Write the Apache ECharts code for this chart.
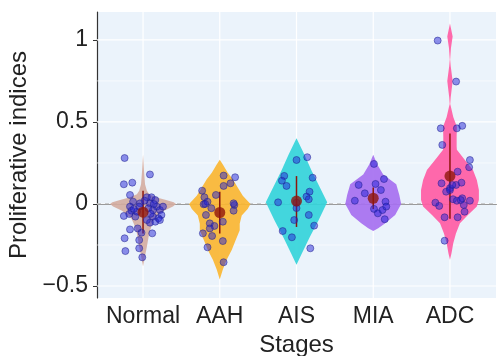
<!DOCTYPE html>
<html>
<head>
<meta charset="utf-8">
<script src="https://cdn.jsdelivr.net/npm/echarts@6/dist/echarts.min.js"></script>
<style>
    html, body {margin: 0; padding: 0; background: #fff;}
    #main {width: 498px; height: 356px;}
</style>
</head>
<body>
<div id="main"></div>
<script>
// 分组
var stages = ['Normal', 'AAH', 'AIS', 'MIA', 'ADC'];
var stagePos = [1, 2, 3, 4, 5];
var yTicks = [-0.5, 0, 0.5, 1];
var yMinorTicks = [-0.25, 0.25, 0.75];

// 散点 [横向抖动, 数值]
var normalPoints = [[-0.24, 0.28], [0.09, 0.18], [-0.25, 0.12], [-0.14, 0.13], [-0.17, 0.055],
    [-0.13, 0.014], [-0.04, 0.004], [0.05, 0.041], [0.11, 0.041], [0.16, 0.024], [0.09, 0.004],
    [0.18, -0.016], [0.22, -0.037], [0.24, -0.067], [0.2, -0.087], [0.16, -0.108], [0.09, -0.114],
    [0.05, -0.098], [0.13, -0.077], [-0.17, -0.016], [-0.15, -0.041], [-0.18, -0.061], [-0.25, -0.073],
    [-0.1, -0.077], [-0.08, -0.047], [-0.05, -0.016], [0.22, -0.098], [0.26, -0.016], [0.07, -0.026],
    [0.13, -0.037], [0.02, 0.02], [0.14, 0.0], [0.1, -0.06], [-0.12, -0.03],
    [-0.17, -0.155], [-0.07, -0.149], [0.12, -0.179], [-0.02, -0.175], [-0.24, -0.209], [-0.05, -0.22],
    [-0.05, -0.27], [-0.23, -0.287], [-0.01, -0.325]];
var aahPoints = [[0.05, 0.173], [0.2, 0.163], [0.14, 0.126], [0.05, 0.11], [-0.23, 0.081], [-0.2, 0.041],
    [-0.05, 0.055], [-0.21, -0.002], [-0.11, -0.026], [0.19, -0.006], [0.18, -0.041], [0.18, 0.004],
    [-0.18, -0.067], [0.04, -0.108], [-0.13, -0.118], [-0.07, -0.134], [-0.13, -0.149], [-0.22, -0.179],
    [-0.1, -0.195], [-0.16, -0.264], [0.04, -0.226], [0.05, -0.355], [-0.16, 0.014], [-0.19, 0.0]];
var aisPoints = [[0.0, 0.268], [0.14, 0.285], [-0.16, 0.171], [-0.19, 0.142], [-0.13, 0.11], [0.21, 0.16],
    [0.17, 0.075], [0.13, 0.045], [0.16, 0.029], [-0.24, 0.01], [0.0, 0.008], [0.16, -0.067],
    [-0.03, -0.098], [0.23, -0.132], [-0.18, -0.165], [-0.06, -0.203], [0.18, -0.27], [0.0, -0.025]];
var miaPoints = [[0.01, 0.244], [0.14, 0.152], [-0.19, 0.116], [0.03, 0.122], [0.1, 0.085], [-0.11, 0.065],
    [-0.24, 0.02], [0.16, 0.014], [0.01, -0.03], [0.06, -0.057], [0.12, -0.037], [0.17, -0.016], [0.15, -0.093]];
var adcPoints = [[-0.16, 0.996], [0.08, 0.746], [-0.12, 0.461], [0.09, 0.461], [0.16, 0.476], [-0.1, 0.36],
    [0.26, 0.268], [0.25, 0.224], [0.1, 0.197], [0.15, 0.13], [-0.11, 0.126], [0.08, 0.116], [0.0, 0.096],
    [-0.05, 0.075], [0.04, 0.029], [0.09, 0.02], [0.16, 0.035], [0.26, 0.02], [-0.19, 0.008], [-0.14, -0.012],
    [0.18, -0.006], [0.19, -0.047], [-0.07, -0.081], [0.1, -0.081], [-0.07, -0.224], [0.0, 0.085],
    [0.03, 0.116], [0.14, 0.024]];

// 均值与误差线
var meanValues = [-0.05, -0.052, 0.018, 0.035, 0.17];
var errLower = [-0.18, -0.18, -0.14, -0.03, -0.09];
var errUpper = [0.08, 0.075, 0.17, 0.1, 0.43];

// 小提琴轮廓 [数值, 半宽(分类单位)]
var normalViolin = [[0.30, 0], [0.2, 0.013], [0.12, 0.026], [0.08, 0.05], [0.06, 0.08], [0.04, 0.18],
    [0.025, 0.3], [0.01, 0.4], [0, 0.43], [-0.015, 0.39], [-0.04, 0.28], [-0.06, 0.22], [-0.09, 0.15],
    [-0.12, 0.12], [-0.18, 0.08], [-0.26, 0.05], [-0.32, 0.025], [-0.38, 0]];
var aahViolin = [[0.27, 0], [0.24, 0.04], [0.19, 0.104], [0.15, 0.17], [0.1, 0.234], [0.05, 0.3], [0.0, 0.4],
    [-0.03, 0.364], [-0.07, 0.286], [-0.12, 0.26], [-0.16, 0.26], [-0.22, 0.208], [-0.28, 0.156],
    [-0.34, 0.09], [-0.4, 0.04], [-0.46, 0]];
var aisViolin = [[0.4, 0], [0.3, 0.104], [0.2, 0.2], [0.1, 0.305], [0.01, 0.4], [-0.1, 0.286],
    [-0.2, 0.175], [-0.3, 0.071], [-0.37, 0]];
var miaViolin = [[0.3, 0], [0.24, 0.052], [0.18, 0.13], [0.12, 0.3], [0.055, 0.34], [0, 0.364],
    [-0.067, 0.286], [-0.118, 0.156], [-0.148, 0.065], [-0.165, 0]];
var adcViolin = [[1.1, 0], [1.02, 0.035], [0.95, 0.013], [0.88, 0.003], [0.84, 0.01], [0.75, 0.035],
    [0.65, 0.01], [0.61, 0.004], [0.53, 0.043], [0.47, 0.09], [0.41, 0.087], [0.35, 0.087], [0.33, 0.09],
    [0.268, 0.195], [0.207, 0.3], [0.146, 0.35], [0.085, 0.377], [0.024, 0.377], [-0.016, 0.35],
    [-0.067, 0.234], [-0.118, 0.13], [-0.18, 0.078], [-0.24, 0.043], [-0.3, 0.02], [-0.34, 0]];

var allPoints = [normalPoints, aahPoints, aisPoints, miaPoints, adcPoints];
var violins = [normalViolin, aahViolin, aisViolin, miaViolin, adcViolin];
var violinColors = ['rgba(212,172,160,0.9)', 'rgba(250,182,50,0.92)', 'rgba(52,212,218,0.92)',
    'rgba(166,112,240,0.92)', 'rgba(255,92,164,0.92)'];

var FONT = 'Liberation Sans';

// 散点数据
var pointData = [];
for (var i = 0; i < allPoints.length; i++) {
    for (var j = 0; j < allPoints[i].length; j++) {
        pointData.push([stagePos[i] + allPoints[i][j][0], allPoints[i][j][1]]);
    }
}
var meanData = [], errData = [], violinData = [];
for (var i = 0; i < stages.length; i++) {
    meanData.push([stagePos[i], meanValues[i]]);
    errData.push([stagePos[i], errLower[i], errUpper[i]]);
    violinData.push([stagePos[i]]);
}
var hGridData = [];
for (var i = 0; i < yTicks.length; i++) hGridData.push([yTicks[i], 1]);
for (var i = 0; i < yMinorTicks.length; i++) hGridData.push([yMinorTicks[i], 0]);
var vGridData = stagePos.map(function (p) { return [p]; });

function hGridItem(params, api) {
    var cs = params.coordSys;
    var y = api.coord([1, api.value(0)])[1];
    return {
        type: 'line',
        shape: {x1: cs.x, y1: y, x2: cs.x + cs.width, y2: y},
        style: {stroke: '#ffffff', lineWidth: api.value(1) ? 1.2 : 0.6}
    };
}

function vGridItem(params, api) {
    var cs = params.coordSys;
    var x = api.coord([api.value(0), 0])[0];
    return {
        type: 'line',
        shape: {x1: x, y1: cs.y, x2: x, y2: cs.y + cs.height},
        style: {stroke: '#ffffff', lineWidth: 1.2}
    };
}

function zeroLineItem(params, api) {
    var cs = params.coordSys;
    var y = api.coord([1, api.value(0)])[1];
    return {
        type: 'line',
        shape: {x1: cs.x, y1: y, x2: cs.x + cs.width, y2: y},
        style: {stroke: '#a3a3a3', lineWidth: 1, lineDash: [4, 4]}
    };
}

function violinItem(params, api) {
    var k = params.dataIndex;
    var c = api.value(0);
    var prof = violins[k];
    var right = [], left = [];
    for (var n = 0; n < prof.length; n++) {
        right.push(api.coord([c + prof[n][1], prof[n][0]]));
        left.unshift(api.coord([c - prof[n][1], prof[n][0]]));
    }
    return {
        type: 'polygon',
        shape: {points: right.concat(left)},
        style: {fill: violinColors[k]}
    };
}

function errItem(params, api) {
    var p1 = api.coord([api.value(0), api.value(1)]);
    var p2 = api.coord([api.value(0), api.value(2)]);
    return {
        type: 'line',
        shape: {x1: p1[0], y1: p1[1], x2: p2[0], y2: p2[1]},
        style: {stroke: '#8e160c', lineWidth: 1.5}
    };
}

var chart = echarts.init(document.getElementById('main'));
var option = {
    animation: false,
    grid: {
        left: 97, right: 2, top: 12, bottom: 58, containLabel: false, outerBoundsMode: 'none',
        show: true, backgroundColor: '#ebf3fb', borderWidth: 0
    },
    xAxis: {
        type: 'value', min: 0.4, max: 5.6,
        splitLine: {show: false},
        axisLine: {show: true, lineStyle: {color: '#333', width: 1.2}},
        axisTick: {show: true, customValues: stagePos, length: 4, lineStyle: {color: '#333'}},
        axisLabel: {
            customValues: stagePos, margin: 7, fontSize: 23, color: '#222', fontFamily: FONT,
            formatter: function (v) { return stages[Math.round(v) - 1]; }
        },
        name: 'Stages', nameLocation: 'middle', nameGap: 34,
        nameTextStyle: {fontSize: 24, color: '#222', fontFamily: FONT}
    },
    yAxis: {
        type: 'value', min: -0.573, max: 1.17,
        splitLine: {show: false},
        axisLine: {show: true, lineStyle: {color: '#333', width: 1.2}},
        axisTick: {show: true, customValues: yTicks, length: 4, lineStyle: {color: '#333'}},
        axisLabel: {
            customValues: yTicks, margin: 9, fontSize: 23, color: '#222', fontFamily: FONT,
            formatter: function (v) { return v < 0 ? '\u2212' + Math.abs(v) : String(v); }
        },
        name: 'Proliferative indices', nameLocation: 'middle', nameRotate: 90, nameGap: 64,
        nameTextStyle: {fontSize: 24, color: '#222', fontFamily: FONT}
    },
    series: [
        {type: 'custom', name: 'hgrid', renderItem: hGridItem, data: hGridData, z: 1, silent: true},
        {type: 'custom', name: 'vgrid', renderItem: vGridItem, data: vGridData, z: 1, silent: true},
        {type: 'custom', name: 'zero', renderItem: zeroLineItem, data: [[0]], z: 2, silent: true},
        {type: 'custom', name: 'violin', renderItem: violinItem, data: violinData, z: 3},
        {type: 'custom', name: 'err', renderItem: errItem, data: errData, z: 4},
        {
            type: 'scatter', name: 'points', data: pointData, symbolSize: 7, z: 5,
            itemStyle: {color: 'rgba(35,35,215,0.62)', borderColor: 'rgba(30,30,140,0.8)', borderWidth: 0.8}
        },
        {
            type: 'scatter', name: 'mean', data: meanData, symbolSize: 11, z: 6,
            itemStyle: {color: '#8e160c'}
        }
    ]
};
chart.setOption(option);
</script>
</body>
</html>
